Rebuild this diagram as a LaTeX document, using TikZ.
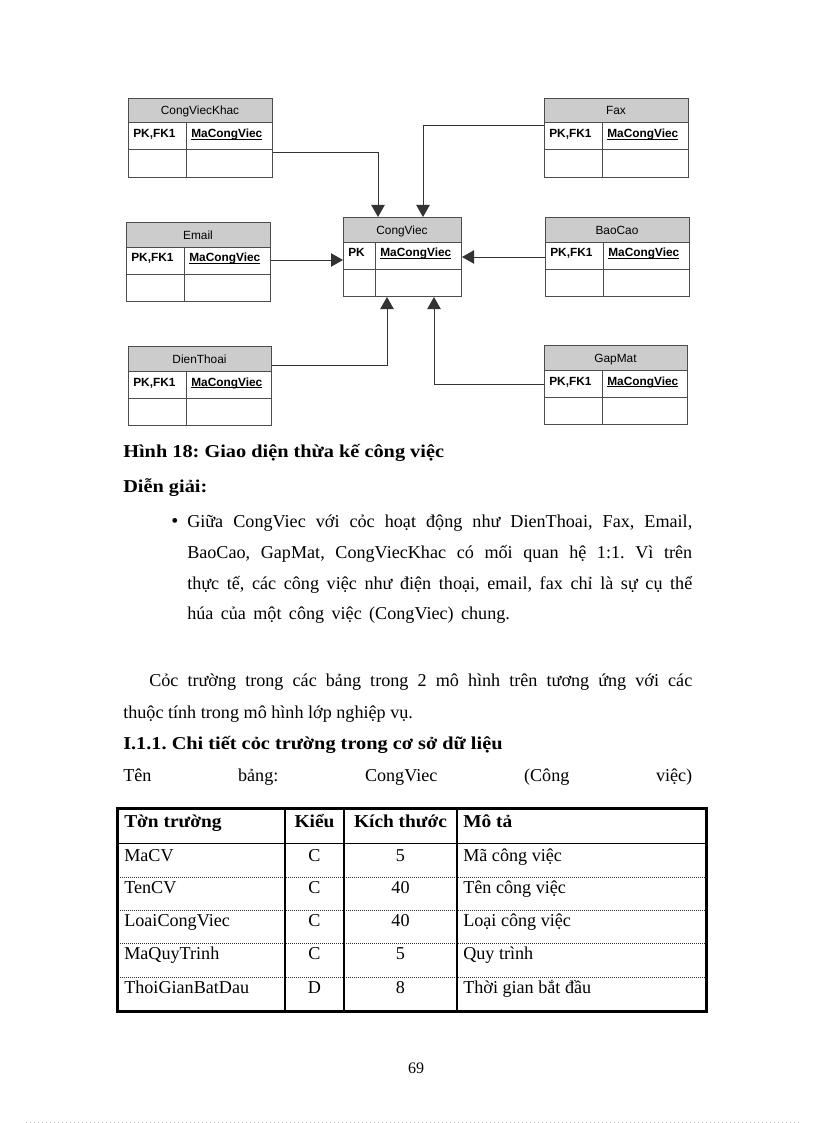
\documentclass[tikz,border=0pt]{standalone}
\usepackage{fontspec}
\setmainfont{Liberation Serif}
\newfontfamily\wideb{Liberation Serif}[FakeStretch=1.12]
\newfontfamily\wideh{Liberation Serif}[FakeStretch=1.07]
\newfontfamily\arialf{Liberation Sans}
\usetikzlibrary{arrows.meta,calc}
\newcommand\myul[1]{\setbox0\hbox{#1}\rlap{\rule[-1.3pt]{\wd0}{0.6pt}}\box0}
\newcommand\ertab[7]{%
  \fill[black!20] (#2,#3) rectangle ({#2+#4},{#3+25});
  \node[erbox, minimum width={#4*0.75pt}, minimum height={79*0.75pt}] (#1) at (#2,#3) {};
  \draw[erline] (#2,{#3+25}) -- ({#2+#4},{#3+25});
  \draw[erline] (#2,{#3+52}) -- ({#2+#4},{#3+52});
  \draw[erline] ({#2+#5},{#3+25}) -- ({#2+#5},{#3+79});
  \node[hdr] (#1-t) at ({#2+#4/2},{#3+17}) {#6};
  \node[key] (#1-k) at ({#2+5},{#3+40}) {#7};
  \node[key] (#1-f) at ({#2+#5+5},{#3+40}) {\myul{MaCongViec}};
}
\frenchspacing
\begin{document}
\begin{tikzpicture}[x=0.75pt,y=-0.75pt,
  erbox/.style={draw=black!70, line width=0.75pt, inner sep=0pt, anchor=north west},
  erline/.style={draw=black!70, line width=0.75pt},
  hdr/.style={font=\arialf\fontsize{8.9}{10}\selectfont, anchor=base, inner sep=0pt},
  key/.style={font=\arialf\bfseries\fontsize{8.9}{10}\selectfont, anchor=base west, inner sep=0pt},
  conn/.style={draw=black!80, line width=0.75pt, -{Triangle[width=10pt,length=9pt]}},
  body/.style={font=\fontsize{13.6}{16}\selectfont, anchor=base west, inner sep=0pt},
  bodyb/.style={font=\wideb\bfseries\fontsize{13.6}{16}\selectfont, anchor=base west, inner sep=0pt},
  cellb/.style={font=\wideh\bfseries\fontsize{13.6}{16}\selectfont, anchor=base west, inner sep=0pt},
  cellc/.style={font=\fontsize{13.6}{16}\selectfont, anchor=base, inner sep=0pt},
  cellhc/.style={font=\wideh\bfseries\fontsize{13.6}{16}\selectfont, anchor=base, inner sep=0pt},
  tline/.style={draw=black, line width=0.75pt},
  tdot/.style={draw=black!80, line width=0.6pt, dash pattern=on 0.75pt off 0.75pt}
]
\useasboundingbox (0,0) rectangle (816,1123);
\fill[white] (0,0) rectangle (816,1123);

% ER tables
\ertab{cvk}{128}{98}{144}{58}{CongViecKhac}{PK,FK1}
\ertab{fax}{544}{98}{144}{58}{Fax}{PK,FK1}
\ertab{em}{126}{222}{144}{58}{Email}{PK,FK1}
\ertab{cv}{343}{217}{118}{32}{CongViec}{PK}
\ertab{bc}{545}{217}{144}{58}{BaoCao}{PK,FK1}
\ertab{dt}{128}{346}{143}{58}{DienThoai}{PK,FK1}
\ertab{gm}{544}{345}{143}{58}{GapMat}{PK,FK1}

% connectors
\draw[conn] (cvk.east |- 0,153) -| (cv.north -| 378,0);
\draw[conn] (fax.west |- 0,126) -| (cv.north -| 423,0);
\draw[conn] (em.east |- 0,260) -- (cv.west |- 0,260);
\draw[conn] (bc.west |- 0,257) -- (cv.east |- 0,257);
\draw[conn] (dt.east |- 0,365) -| (cv.south -| 387,0);
\draw[conn] (gm.west |- 0,384) -| (cv.south -| 434,0);

% text
\node[bodyb] (cap) at (123,457) {Hình 18: Giao diện thừa kế công việc};
\node[bodyb] (dg) at (123,492) {Diễn giải:};
\node[body, font=\fontsize{15}{16}\selectfont] (bul) at (171,527) {•};
\node[body] (l3) at (187,527) {\makebox[378.75pt][s]{Giữa CongViec với cỏc hoạt động như DienThoai, Fax, Email,}};
\node[body] (l4) at (187,558) {\makebox[378.75pt][s]{BaoCao, GapMat, CongViecKhac có mối quan hệ 1:1. Vì trên}};
\node[body] (l5) at (187,589) {\makebox[378.75pt][s]{thực tế, các công việc như điện thoại, email, fax chỉ là sự cụ thể}};
\node[body] (l6) at (187,619) {\makebox[242pt][s]{húa của một công việc (CongViec) chung.}};
\node[body] (l7) at (149,686) {\makebox[407.25pt][s]{Cỏc trường trong các bảng trong 2 mô hình trên tương ứng với các}};
\node[body] (l8) at (123,718) {thuộc tính trong mô hình lớp nghiệp vụ.};
\node[bodyb] (l9) at (123,749) {I.1.1. Chi tiết cỏc trường trong cơ sở dữ liệu};
\node[body] (l10) at (123,781) {\makebox[426.75pt][s]{Tên bảng: CongViec (Công việc)}};

% table
\draw[tline] (116,843) -- (705,843);
\foreach \yy in {877,910,943,977} \draw[tdot] (116,\yy) -- (705,\yy);
\foreach \xx in {285,344,457} \draw[draw=black, line width=1pt] (\xx,807) -- (\xx,1010);
\node[draw=black, line width=2.25pt, minimum width={589*0.75pt}, minimum height={203*0.75pt}, inner sep=0pt, anchor=north west] (tbl) at (116,807) {};

\node[cellb] (h1) at (124,827) {Tờn trường};
\node[cellhc] (h2) at (314.5,827) {Kiểu};
\node[cellhc] (h3) at (400.5,827) {Kích thước};
\node[cellb] (h4) at (463,827) {Mô tả};

\node[body] (r1a) at (124,861) {MaCV};
\node[cellc] (r1b) at (314.5,861) {C};
\node[cellc] (r1c) at (400.5,861) {5};
\node[body] (r1d) at (463,861) {Mã công việc};

\node[body] (r2a) at (124,893) {TenCV};
\node[cellc] (r2b) at (314.5,893) {C};
\node[cellc] (r2c) at (400.5,893) {40};
\node[body] (r2d) at (463,893) {Tên công việc};

\node[body] (r3a) at (124,926) {LoaiCongViec};
\node[cellc] (r3b) at (314.5,926) {C};
\node[cellc] (r3c) at (400.5,926) {40};
\node[body] (r3d) at (463,926) {Loại công việc};

\node[body] (r4a) at (124,959) {MaQuyTrinh};
\node[cellc] (r4b) at (314.5,959) {C};
\node[cellc] (r4c) at (400.5,959) {5};
\node[body] (r4d) at (463,959) {Quy trình};

\node[body] (r5a) at (124,993) {ThoiGianBatDau};
\node[cellc] (r5b) at (314.5,993) {D};
\node[cellc] (r5c) at (400.5,993) {8};
\node[body] (r5d) at (463,993) {Thời gian bắt đầu};

\node[cellc, font=\fontsize{12}{14}\selectfont] (pg) at (416,1073) {69};
\draw[draw=black!30, line width=0.75pt, dash pattern=on 0.75pt off 2.25pt] (26,1122) -- (800,1122);
\end{tikzpicture}
\end{document}
